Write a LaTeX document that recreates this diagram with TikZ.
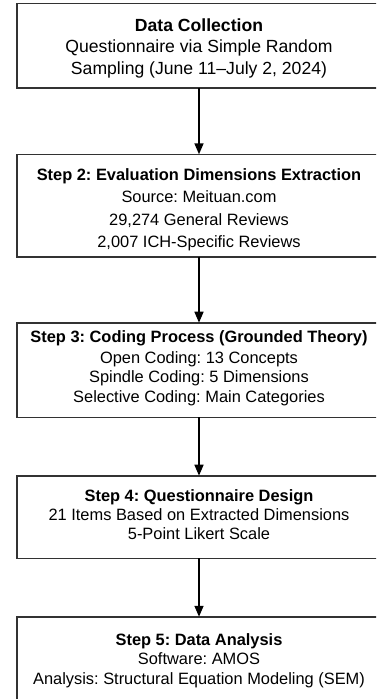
\documentclass[tikz,border=0pt]{standalone}
\usepackage{fontspec}
\setmainfont{Liberation Sans}
\usetikzlibrary{arrows.meta}
\definecolor{boxline}{RGB}{50,50,50}
\frenchspacing
\begin{document}
\begin{tikzpicture}[x=1pt,y=-1pt,
  box/.style={draw=boxline, line width=1.6pt, minimum width=364pt, inner sep=0pt, outer sep=0pt, fill=white},
  big/.style={font=\fontsize{17.6}{20}\selectfont, anchor=base, inner sep=0pt},
  txt/.style={font=\fontsize{16.4}{19}\selectfont, anchor=base, inner sep=0pt},
  flow/.style={line width=1.6pt, -{Triangle[length=11pt,width=9pt]}}
]
\useasboundingbox (0,0) rectangle (376,699);
\clip (0,0) rectangle (376,699);
% boxes
\node[box, minimum height=84.4pt] (b1) at (199,45.5) {};
\node[box, minimum height=102.4pt] (b2) at (199,205.5) {};
\node[box, minimum height=94.6pt] (b3) at (199,370) {};
\node[box, minimum height=82.6pt] (b4) at (199,517) {};
\node[box, minimum height=86.3pt] (b5) at (199,659.9) {};
% texts box 1
\node[big] (t1a) at (199,31.7) {\bfseries Data Collection};
\node[big] (t1b) at (199,52.6) {Questionnaire via Simple Random};
\node[big] (t1c) at (199,74.3) {Sampling (June 11–July 2, 2024)};
% box 2
\node[txt] (t2a) at (199,180.5) {\bfseries Step 2: Evaluation Dimensions Extraction};
\node[txt] (t2b) at (199,202) {Source: Meituan.com};
\node[txt] (t2c) at (199,225) {29,274 General Reviews};
\node[txt] (t2d) at (199,247.3) {2,007 ICH-Specific Reviews};
% box 3
\node[txt] (t3a) at (199,342) {\bfseries Step 3: Coding Process (Grounded Theory)};
\node[txt] (t3b) at (199,363) {Open Coding: 13 Concepts};
\node[txt] (t3c) at (199,382.5) {Spindle Coding: 5 Dimensions};
\node[txt] (t3d) at (199,402.5) {Selective Coding: Main Categories};
% box 4
\node[txt] (t4a) at (199,501.7) {\bfseries Step 4: Questionnaire Design};
\node[txt] (t4b) at (199,520.3) {21 Items Based on Extracted Dimensions};
\node[txt] (t4c) at (199,539) {5-Point Likert Scale};
% box 5
\node[txt] (t5a) at (199,645.5) {\bfseries Step 5: Data Analysis};
\node[txt] (t5b) at (199,664.5) {Software: AMOS};
\node[txt] (t5c) at (199,684) {Analysis: Structural Equation Modeling (SEM)};
% arrows
\draw[flow] (b1.south) -- (b2.north);
\draw[flow] (b2.south) -- (b3.north);
\draw[flow] (b3.south) -- (b4.north);
\draw[flow] (b4.south) -- (b5.north);
\end{tikzpicture}
\end{document}
